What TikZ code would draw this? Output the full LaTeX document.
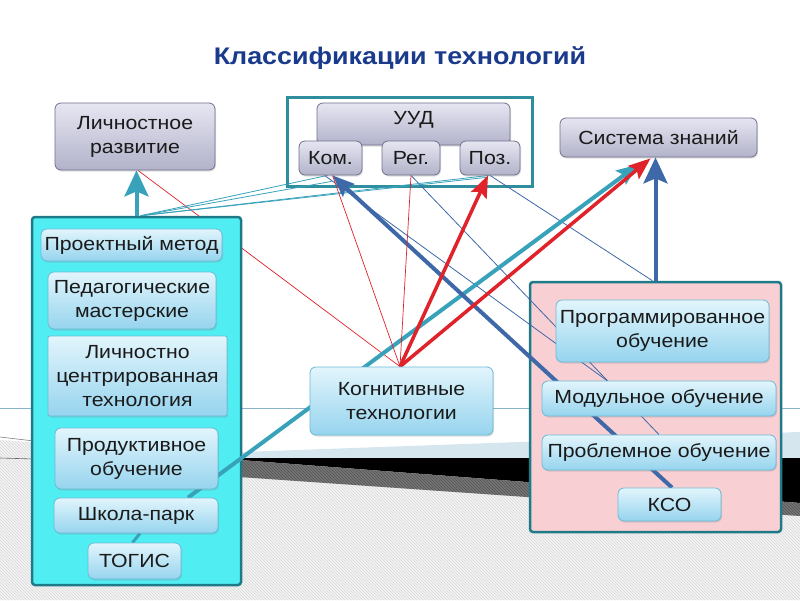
\documentclass[tikz,border=0pt]{standalone}
\usepackage{fontspec}
\setmainfont{Liberation Sans}[FakeStretch=1.12]
\usetikzlibrary{arrows.meta,shadows,patterns}
\definecolor{ttl}{HTML}{1A3A8C}
\definecolor{txt}{HTML}{1A1A1A}
\definecolor{lavT}{HTML}{E6E6F2}
\definecolor{lavB}{HTML}{B2B2CA}
\definecolor{lavD}{HTML}{70708E}
\definecolor{lbT}{HTML}{E2F5FC}
\definecolor{lbB}{HTML}{96D4EE}
\definecolor{lbD}{HTML}{6CBAD6}
\definecolor{cyanP}{HTML}{50EEF3}
\definecolor{pinkP}{HTML}{F8D0D3}
\definecolor{panelD}{HTML}{1F7A88}
\definecolor{frameD}{HTML}{2E8E9E}
\definecolor{tealA}{HTML}{38A2BA}
\definecolor{blueA}{HTML}{3E68A8}
\definecolor{redA}{HTML}{E0222A}
\definecolor{bandL}{HTML}{D5E6EE}
\definecolor{hatchL}{HTML}{F4F4F4}
\definecolor{hatchLL}{HTML}{D8D8D8}
\definecolor{hatchD}{HTML}{757575}
\definecolor{hatchDD}{HTML}{555555}
\definecolor{decoline}{HTML}{8AB4C8}
\pgfdeclarelayer{bg}
\pgfdeclarelayer{back}
\pgfdeclarelayer{panels}
\pgfdeclarelayer{lines}
\pgfsetlayers{bg,back,panels,lines,main}
\tikzset{
  boxbase/.style={line width=0.8pt, rounded corners=6pt, text=txt, align=center,
    inner sep=0pt, font=\fontsize{19}{24}\selectfont,
    drop shadow={opacity=0.25,shadow xshift=1pt,shadow yshift=-1.5pt}},
  lav/.style={boxbase, draw=lavD, top color=lavT, bottom color=lavB},
  lb/.style={boxbase, draw=lbD, top color=lbT, bottom color=lbB},
  panel/.style={draw=panelD, line width=2.5pt, rounded corners=3pt, inner sep=0pt},
  bigtip/.style={-{Stealth[length=26pt,width=24pt,inset=5pt]}},
  midtip/.style={-{Stealth[length=22pt,width=17pt,inset=4pt]}},
  tealthick/.style={draw=tealA, line width=4pt},
  bluethick/.style={draw=blueA, line width=4pt},
  redthick/.style={draw=redA, line width=3.5pt},
  redthin/.style={draw=redA, line width=0.7pt},
  tealthin/.style={draw=tealA, line width=0.8pt},
  bluethin/.style={draw=blueA, line width=0.8pt},
}
\begin{document}
\begin{tikzpicture}[x=1pt,y=-1pt]
\useasboundingbox (0,0) rectangle (800,600);
% background decoration
\begin{pgfonlayer}{bg}
  \fill[white] (0,0) rectangle (800,600);
  \fill[hatchL] (0,440) -- (241,458) -- (800,458) -- (800,600) -- (0,600) -- cycle;
  \fill[pattern=north west lines, pattern color=hatchLL] (0,440) -- (241,458) -- (800,458) -- (800,600) -- (0,600) -- cycle;
  \fill[bandL] (241,452) -- (800,432) -- (800,458) -- (241,458) -- cycle;
  \fill[black] (214,458) -- (800,458) -- (800,503) -- cycle;
  \fill[hatchD] (150,458) -- (214,458) -- (800,503) -- (800,516) -- (240,477) -- (150,471) -- cycle;
  \fill[pattern=north west lines, pattern color=hatchDD] (150,458) -- (214,458) -- (800,503) -- (800,516) -- (240,477) -- (150,471) -- cycle;
  \draw[decoline, line width=0.8pt] (0,408) -- (800,408);
  \draw[gray, line width=0.6pt] (0,437) -- (34,441);
  \draw[gray!80!black, line width=0.6pt] (0,458) -- (34,459);
\end{pgfonlayer}

% title
\node[font=\bfseries\fontsize{24}{28}\selectfont, text=ttl] (title) at (400,58) {Классификации технологий};

% panels
\begin{pgfonlayer}{panels}
  \node[panel, fill=cyanP, minimum width=209pt, minimum height=368pt] (lp) at (136.5,401) {};
  \node[panel, fill=pinkP, minimum width=251pt, minimum height=250pt] (rp) at (655.5,407) {};
  \node[draw=frameD, line width=3pt, fill=white, inner sep=0pt, minimum width=245pt, minimum height=89pt] (uudf) at (409.5,141.5) {};
\end{pgfonlayer}

% top boxes
\node[lav, minimum width=160pt, minimum height=67pt] (lr) at (135,136.5) {Личностное\\развитие};
\node[lav, minimum width=193pt, minimum height=42pt, text depth=13pt] (uud) at (413.5,124) {УУД};
\node[lav, minimum width=63pt, minimum height=34pt] (kom) at (330.5,158) {Ком.};
\node[lav, minimum width=58pt, minimum height=34pt] (reg) at (411,158) {Рег.};
\node[lav, minimum width=60pt, minimum height=34pt] (poz) at (490,158) {Поз.};
\node[lav, minimum width=197pt, minimum height=39pt] (sz) at (658.5,137.5) {Система знаний};

% left panel boxes
\node[lb, minimum width=181pt, minimum height=32pt] (pm) at (131.5,245) {Проектный метод};
\node[lb, minimum width=168pt, minimum height=57pt] (ped) at (132,300.5) {Педагогические\\мастерские};
\node[lb, rounded corners=2pt, minimum width=179pt, minimum height=80pt] (lct) at (137.5,376) {Личностно\\центрированная\\технология};
\node[lb, minimum width=163pt, minimum height=61pt] (prod) at (136.5,458.5) {Продуктивное\\обучение};
\node[lb, minimum width=164pt, minimum height=35pt] (shp) at (136,515.5) {Школа-парк};
\node[lb, minimum width=93pt, minimum height=36pt] (togis) at (134.5,561) {ТОГИС};

% middle
\node[lb, minimum width=183pt, minimum height=68pt] (kog) at (401.5,401) {Когнитивные\\технологии};

% right panel boxes
\node[lb, minimum width=213pt, minimum height=62pt] (prog) at (662.5,331) {Программированное\\обучение};
\node[lb, minimum width=234pt, minimum height=35pt] (mod) at (659,398.5) {Модульное обучение};
\node[lb, minimum width=234pt, minimum height=35pt] (probl) at (659,452.5) {Проблемное обучение};
\node[lb, minimum width=103pt, minimum height=33pt] (kso) at (669.5,504.5) {КСО};

% connector start points
\coordinate (kt) at ([xshift=-1.5pt]kog.north);
\coordinate (lpt) at ([xshift=4pt]lp.north);

% red line behind left panel
\begin{pgfonlayer}{back}
  \draw[redthin] (kt) -- ([xshift=3pt]lr.south);
\end{pgfonlayer}

\begin{pgfonlayer}{lines}
  % thin blue
  \draw[bluethin] (poz.south) -- ([xshift=-3pt]rp.north);
  \draw[bluethin] (reg.south) -- (probl.north);
  \draw[bluethin] ([xshift=-6pt]kom.south) -- ([xshift=-52pt]mod.north);
  % thin teal
  \draw[tealthin] (lpt) -- ([xshift=-3pt]kom.south);
  \draw[tealthin] (lpt) -- ([xshift=1pt,yshift=-6pt]kom.south);
  \draw[tealthin] (lpt) -- ([xshift=-4pt,yshift=-2pt]poz.south);
  \draw[tealthin] (lpt) -- ([xshift=-1pt]poz.south);
  % thick teal
  \draw[tealthick, bigtip] (lp.north) -- (lp.north |- lr.south);
  \draw[tealthick, line width=3pt] ([xshift=-2pt]togis.north) -- ([xshift=4pt]shp.south);
  \draw[tealthick, midtip] ([xshift=52pt]shp.north) -- ([xshift=-20pt,yshift=-7pt]sz.south);
  % thick blue
  \draw[bluethick, midtip] ([xshift=2.5pt]kso.north) -- ([xshift=2pt]kom.south);
  \draw[bluethick, bigtip] (rp.north) -- (rp.north |- sz.south);
  % red
  \draw[redthin] (kt) -- ([xshift=2pt]kom.south);
  \draw[redthin] (kt) -- (reg.south);
  \draw[redthick, midtip] (kt) -- ([xshift=-2pt]poz.south);
  \draw[redthick, midtip] (kt) -- ([xshift=-8pt,yshift=-1pt]sz.south);
\end{pgfonlayer}
\end{tikzpicture}
\end{document}
